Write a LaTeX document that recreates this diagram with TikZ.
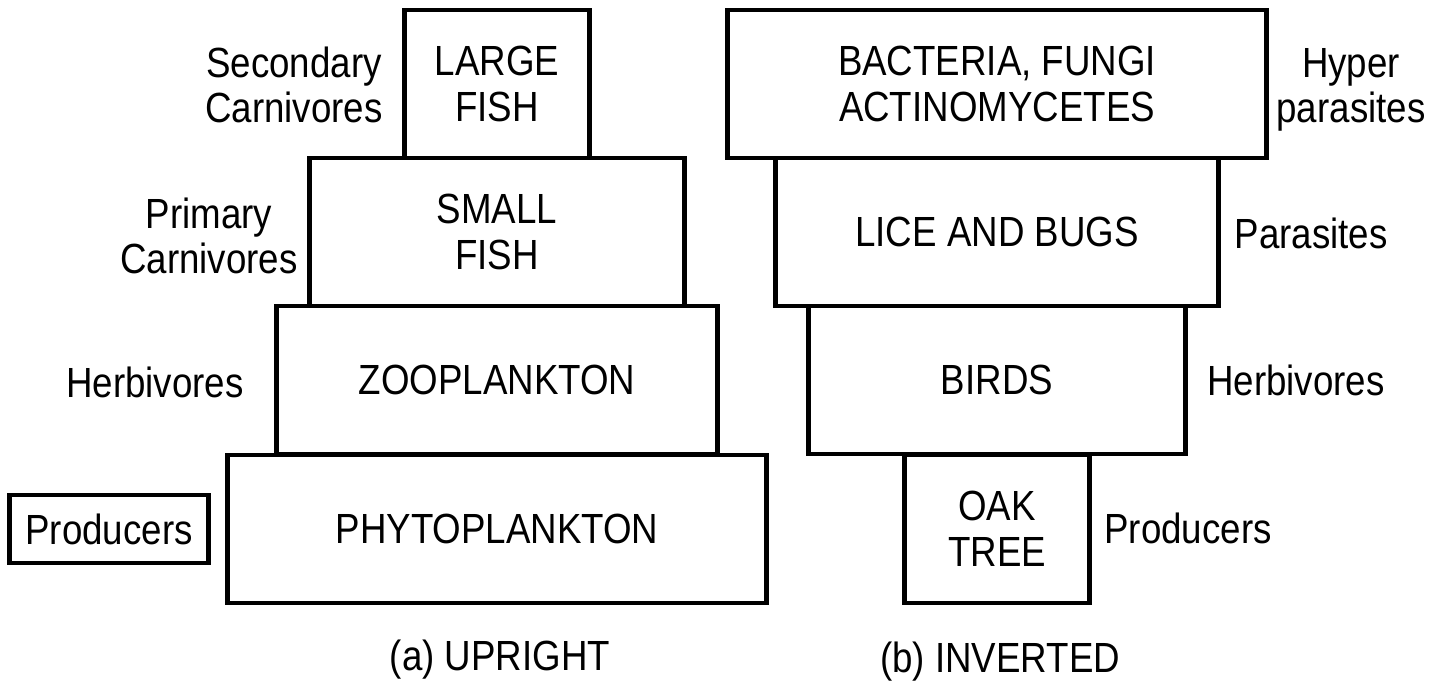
\documentclass[tikz,border=0pt]{standalone}
\usepackage{fontspec}
\setmainfont[FakeStretch=0.87]{Liberation Sans}
\usepackage{tikz}
\usetikzlibrary{positioning}

\begin{document}
\begin{tikzpicture}[
    tier/.style={draw, line width=1.4pt, minimum height=1.48cm, inner sep=0pt, align=center},
    lbl/.style={align=center, inner sep=1pt},
    every node/.style={font=\fontsize{12}{13}\selectfont}]
    \useasboundingbox (0,0) rectangle (14.3,6.86);

    % (a) Upright pyramid
    \foreach \nm/\w/\y/\txt in {large/1.85/6.02/{LARGE\\FISH},
                                small/3.75/4.54/{SMALL\\FISH},
                                zoo/4.41/3.06/{ZOOPLANKTON},
                                phyto/5.39/1.57/{PHYTOPLANKTON}}
        \node[tier, minimum width=\w cm] (\nm) at (4.97,\y) {\txt};
    \node[lbl] (seccarn) at (2.94,6.01) {Secondary\\Carnivores};
    \node[lbl] (primcarn) at (2.09,4.50) {Primary\\Carnivores};
    \node[lbl] (herbL) at (1.55,3.04) {Herbivores};
    \node[draw, line width=1.4pt, minimum width=1.99cm, minimum height=0.68cm, inner sep=0pt] (prodL) at (1.09,1.57) {Producers};
    \node (capA) at (5.00,0.26) {(a) UPRIGHT};

    % (b) Inverted pyramid
    \foreach \nm/\w/\y/\txt in {bact/5.39/6.02/{BACTERIA, FUNGI\\ACTINOMYCETES},
                                lice/4.43/4.54/{LICE AND BUGS},
                                birds/3.77/3.06/{BIRDS},
                                oak/1.85/1.57/{OAK\\TREE}}
        \node[tier, minimum width=\w cm] (\nm) at (9.97,\y) {\txt};
    \node[lbl] (hyper) at (13.51,5.96) {Hyper\\parasites};
    \node[lbl] (paras) at (13.11,4.53) {Parasites};
    \node[lbl] (herbR) at (12.96,3.06) {Herbivores};
    \node[lbl] (prodR) at (11.88,1.58) {Producers};
    \node (capB) at (10.00,0.24) {(b) INVERTED};
\end{tikzpicture}
\end{document}
